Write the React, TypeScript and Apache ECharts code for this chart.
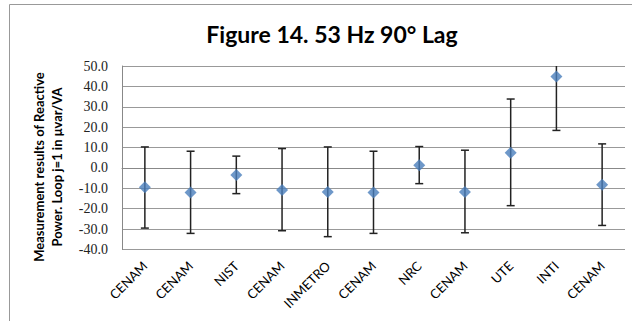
import React, { useEffect, useRef } from "react";
import * as echarts from "echarts";

const categories = ["CENAM", "CENAM", "NIST", "CENAM", "INMETRO", "CENAM", "NRC", "CENAM", "UTE", "INTI", "CENAM"];
const values = [-9.5, -12.1, -3.4, -10.8, -11.8, -12.1, 1.3, -11.8, 7.4, 44.8, -8.2];
const lower = [-29.5, -32.1, -12.6, -30.8, -33.7, -32.1, -7.7, -31.8, -18.5, 18.4, -28.2];
const upper = [10.3, 8.2, 5.8, 9.5, 10.3, 8.2, 10.5, 8.7, 33.8, 71.2, 11.8];
const yTicks = { min: -40, max: 50, interval: 10 };

export default function App() {
  const ref = useRef<HTMLDivElement>(null);
  useEffect(() => {
    const chart = echarts.init(ref.current!, null, { renderer: "svg" });
    const errData = categories.map((_, i) => [i, lower[i], upper[i]]);
    chart.setOption({
      animation: false,
      backgroundColor: "#fff",
      title: {
        text: "Figure 14. 53 Hz 90° Lag",
        left: 327,
        top: 17,
        textAlign: "center",
        textStyle: { fontFamily: "Lato", fontWeight: "bold", fontSize: 23, color: "#000" },
      },
      graphic: [
        {
          type: "rect",
          shape: { x: 9.5, y: 4.5, width: 700, height: 400 },
          style: { fill: "none", stroke: "#999", lineWidth: 1 },
          silent: true,
        },
        {
          type: "text",
          x: 48,
          y: 167,
          rotation: Math.PI / 2,
          style: {
            text: "Measurement results of Reactive\nPower. Loop j=1 in μvar/VA",
            font: "bold 13px Lato",
            fill: "#000",
            align: "center",
            verticalAlign: "middle",
            lineHeight: 18,
          },
        },
      ],
      grid: { left: 122, right: 7, top: 66, bottom: 71.5, containLabel: false },
      xAxis: {
        type: "category",
        data: categories,
        boundaryGap: true,
        axisLine: { show: true, lineStyle: { color: "#888" } },
        axisTick: { show: false },
        axisLabel: {
          rotate: 45,
          interval: 0,
          margin: 14,
          fontFamily: "Lato",
          fontSize: 13,
          color: "#000",
        },
        splitLine: { show: false },
      },
      yAxis: {
        type: "value",
        min: yTicks.min,
        max: yTicks.max,
        interval: yTicks.interval,
        axisLine: { show: true, lineStyle: { color: "#888" } },
        axisTick: { show: false },
        axisLabel: {
          formatter: (v: number) => v.toFixed(1),
          fontFamily: "Liberation Serif",
          fontSize: 14,
          color: "#222",
          margin: 14,
        },
        splitLine: { show: true, lineStyle: { color: "#999", width: 1 } },
      },
      series: [
        {
          type: "custom",
          data: errData,
          z: 2,
          renderItem: (params: any, api: any) => {
            const i = api.value(0);
            const lo = api.value(1);
            const hi = api.value(2);
            const hiClamped = Math.min(hi, yTicks.max);
            const pLo = api.coord([i, lo]);
            const pHi = api.coord([i, hiClamped]);
            const cap = 4;
            const style = { stroke: "#222", lineWidth: 1.5 };
            const children: any[] = [
              { type: "line", shape: { x1: pLo[0], y1: pLo[1], x2: pHi[0], y2: pHi[1] }, style },
              { type: "line", shape: { x1: pLo[0] - cap, y1: pLo[1], x2: pLo[0] + cap, y2: pLo[1] }, style },
            ];
            if (hi <= yTicks.max) {
              children.push({ type: "line", shape: { x1: pHi[0] - cap, y1: pHi[1], x2: pHi[0] + cap, y2: pHi[1] }, style });
            }
            return { type: "group", children };
          },
        },
        {
          type: "scatter",
          data: values,
          symbol: "diamond",
          symbolSize: [12, 12],
          z: 3,
          itemStyle: { color: "#4a7ebb" },
        },
      ],
    });
    return () => chart.dispose();
  }, []);
  return <div ref={ref} style={{ position: "fixed", left: 0, top: 0, width: 632, height: 321 }} />;
}
